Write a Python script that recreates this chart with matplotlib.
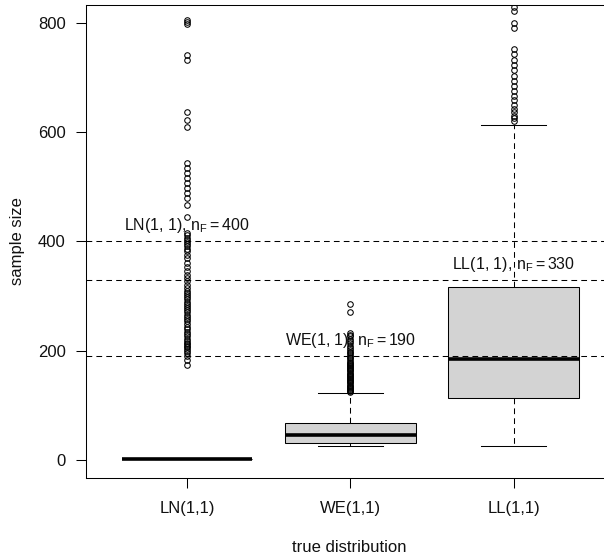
import matplotlib
matplotlib.use("Agg")
import matplotlib.pyplot as plt

plt.rcParams['font.family'] = ['Liberation Sans', 'DejaVu Sans']
plt.rcParams['mathtext.fontset'] = 'custom'
plt.rcParams['mathtext.rm'] = 'Liberation Sans'
plt.rcParams['mathtext.it'] = 'Liberation Sans:italic'

# ---- data ----
categories = ["LN(1,1)", "WE(1,1)", "LL(1,1)"]
q1 = [1, 31, 113]
median = [1, 46, 185]
q3 = [1, 68, 316]
whisker_low = [1, 26, 26]
whisker_high = [1, 122, 613]
ln_outliers = [806, 801, 797, 741, 731, 636, 623, 610, 543, 534, 525, 516, 507,
               498, 489, 479, 467, 445, 415, 411, 406, 402, 398, 395, 391, 387,
               383, 376, 369, 361, 353, 346, 339, 333, 327, 321, 315, 310, 306,
               302, 298, 294, 290, 286, 282, 278, 274, 270, 266, 262, 258, 254,
               248, 244, 240, 235, 230, 226, 222, 218, 215, 212, 209, 206, 203,
               200, 195, 190, 183, 174]
we_outliers = [285, 271, 232, 229, 226, 222, 218, 214, 209, 205, 201, 198, 195,
               192, 189, 186, 183, 180, 178, 176, 174, 172, 170, 168, 166, 164,
               162, 160, 158, 156, 154, 152, 150, 148, 146, 144, 142, 140, 138,
               136, 134, 132, 130, 128, 126, 124]
ll_outliers = [828, 822, 799, 790, 752, 743, 732, 722, 713, 703, 693, 684, 675,
               666, 658, 650, 643, 636, 630, 625, 620]
outliers = [ln_outliers, we_outliers, ll_outliers]
ref_lines = [400, 190, 330]
ref_labels = [r"LN(1, 1), $\mathrm{n_F = 400}$",
              r"WE(1, 1), $\mathrm{n_F = 190}$",
              r"LL(1, 1), $\mathrm{n_F = 330}$"]
yticks = [0, 200, 400, 600, 800]

W, H = 604, 556
fig = plt.figure(figsize=(W / 100, H / 100), dpi=100)
ax = fig.add_axes([86 / W, (H - 477.5) / H, 528.7 / W, 472.2 / H])

stats = []
for i in range(len(categories)):
    stats.append(dict(med=median[i], q1=q1[i], q3=q3[i],
                      whislo=whisker_low[i], whishi=whisker_high[i],
                      fliers=outliers[i], label=categories[i]))

ax.bxp(stats, positions=[1, 2, 3], widths=0.8, patch_artist=True,
       capwidths=0.4,
       boxprops=dict(facecolor='#D3D3D3', edgecolor='black', linewidth=0.75),
       medianprops=dict(color='black', linewidth=2.6, solid_capstyle='butt'),
       whiskerprops=dict(color='black', linewidth=0.75, linestyle=(0, (5.5, 4))),
       capprops=dict(color='black', linewidth=0.75),
       flierprops=dict(marker='o', markerfacecolor='none', markeredgecolor='black',
                       markersize=4, markeredgewidth=0.75))

for i, (yv, lab) in enumerate(zip(ref_lines, ref_labels)):
    ax.axhline(yv, color='black', linewidth=0.75, linestyle=(0, (5.5, 4)), zorder=3)
    ax.annotate(lab, xy=(i + 1, yv), xytext=(0, 11.2), textcoords='offset points',
                ha='center', va='center', fontsize=11.5, color='#111111', zorder=4)

ax.set_xlim(0.38, 3.62)
ax.set_ylim(-32, 832)
ax.set_xticks([1, 2, 3])
ax.set_xticklabels(categories)
ax.set_yticks(yticks)
ax.set_yticklabels([str(v) for v in yticks])
ax.tick_params(axis='both', length=7.2, width=0.75, labelsize=12,
               colors='black', labelcolor='#111111')
ax.tick_params(axis='x', pad=9.5)
ax.tick_params(axis='y', pad=7.5)
for sp in ax.spines.values():
    sp.set_linewidth(0.75)

fig.text(18 / W, 1 - 241.4 / H, "sample size", rotation=90, ha='center',
         va='center', fontsize=12, color='#111111')
fig.text(349 / W, 1 - 547 / H, "true distribution", ha='center', va='center',
         fontsize=12, color='#111111')

fig.savefig("out.png", dpi=100)
